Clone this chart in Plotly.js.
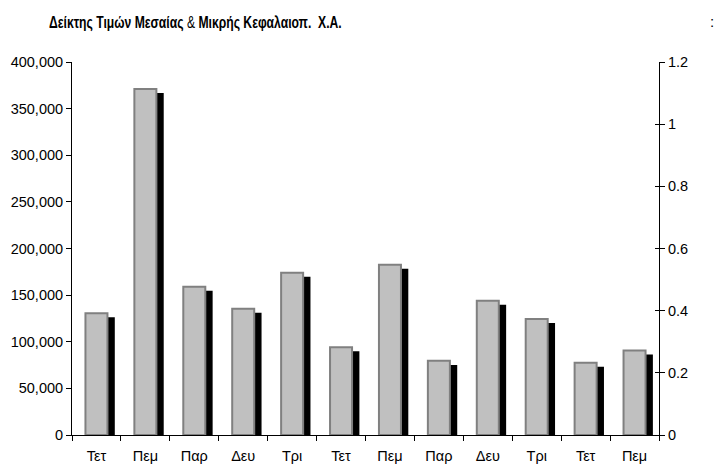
<!DOCTYPE html>
<html>
<head>
<meta charset="utf-8">
<script src="https://cdn.plot.ly/plotly-3.0.1.min.js"></script>
<style>html,body{margin:0;padding:0;background:#fff;}#chart{width:724px;height:467px;}</style>
</head>
<body>
<div id="chart"></div>
<script>
// Data
const days = ["Τετ","Πεμ","Παρ","Δευ","Τρι","Τετ","Πεμ","Παρ","Δευ","Τρι","Τετ","Πεμ"];
const indexValues = [130500, 371000, 159000, 135500, 174000, 94000, 182500, 79500, 144000, 124500, 77500, 90500];
const leftTicks = [0, 50000, 100000, 150000, 200000, 250000, 300000, 350000, 400000];
const rightTicks = [0, 0.2, 0.4, 0.6, 0.8, 1, 1.2];

const positions = days.map((d, i) => i);
const boundaries = days.map((d, i) => i - 0.5).concat([days.length - 0.5]);

const BAR_W = 0.45;
const SHADOW_DX = 0.15;     // shadow shift in category units
const SHADOW_DY = -4300;    // shadow shift in value units
const font = {family: "'Liberation Sans', Arial, sans-serif", size: 14.5, color: "#000"};

const shadow = {
  type: "bar", x: positions, y: indexValues, base: SHADOW_DY,
  width: BAR_W, offset: -BAR_W / 2 + SHADOW_DX,
  marker: {color: "#000000", line: {width: 0}},
  cliponaxis: false, hoverinfo: "skip", showlegend: false
};
const bars = {
  type: "bar", x: positions, y: indexValues,
  width: BAR_W, offset: -BAR_W / 2,
  marker: {color: "#C0C0C0", line: {color: "#808080", width: 2}},
  cliponaxis: false, showlegend: false
};
const dummy2 = {type: "scatter", x: [], y: [], xaxis: "x2", yaxis: "y2", showlegend: false};
const dummy3 = {type: "scatter", x: [], y: [], yaxis: "y3", showlegend: false};

const layout = {
  width: 724, height: 467,
  margin: {l: 72, r: 65, t: 62, b: 32},
  paper_bgcolor: "#fff", plot_bgcolor: "#fff",
  barmode: "overlay",
  showlegend: false,
  font: font,
  title: {
    text: "<b>Δείκτης Τιμών Μεσαίας</b> & <b>Μικρής Κεφαλαιοπ.</b>\u00a0\u00a0<b>Χ.Α.</b>",
    font: {family: "'Liberation Sans', Arial, sans-serif", size: 16.5, color: "#000"},
    xref: "container", yref: "container", x: 49 / 724, xanchor: "left", y: 1 - 22 / 467, yanchor: "middle"
  },
  annotations: [{
    text: ":", xref: "paper", yref: "paper", x: (712 - 72) / 587, y: 1 + (62 - 22) / 373,
    xanchor: "center", yanchor: "middle", showarrow: false,
    font: {family: "'Liberation Sans', Arial, sans-serif", size: 15, color: "#000"}
  }],
  xaxis: {
    range: [-0.5, days.length - 0.5], tickmode: "array", tickvals: positions, ticktext: days,
    ticks: "", showline: true, linecolor: "#000", linewidth: 1, showgrid: false, zeroline: false,
    tickfont: font, ticklabelstandoff: 8
  },
  xaxis2: {
    overlaying: "x", range: [-0.5, days.length - 0.5], tickmode: "array", tickvals: boundaries,
    ticks: "outside", ticklen: 5, tickcolor: "#000", tickwidth: 1, showticklabels: false,
    showline: false, showgrid: false, zeroline: false, side: "bottom", anchor: "y"
  },
  yaxis: {
    range: [0, 400000], tickmode: "array", tickvals: leftTicks, tickformat: ",d",
    ticks: "outside", ticklen: 5, tickcolor: "#000", tickwidth: 1,
    showline: true, linecolor: "#000", linewidth: 1, showgrid: false, zeroline: false,
    tickfont: font
  },
  yaxis2: {
    overlaying: "y", side: "right", range: [0, 1.2], tickmode: "array", tickvals: rightTicks,
    ticks: "outside", ticklen: 5, tickcolor: "#000", tickwidth: 1,
    showline: true, linecolor: "#000", linewidth: 1, showgrid: false, zeroline: false,
    tickfont: font, anchor: "x"
  },
  yaxis3: {
    overlaying: "y", side: "right", range: [0, 1.2], tickmode: "array", tickvals: rightTicks,
    ticks: "inside", ticklen: 4, tickcolor: "#000", tickwidth: 1, showticklabels: false,
    showline: false, showgrid: false, zeroline: false, anchor: "x"
  }
};

Plotly.newPlot("chart", [shadow, bars, dummy2, dummy3], layout, {staticPlot: true, displayModeBar: false}).then(function () {
  // Condense the title horizontally to mimic the narrow bold face of the reference
  const t = document.querySelector(".gtitle");
  if (t) {
    const bb = t.getBBox();
    const s = 293 / bb.width;
    const x0 = bb.x;
    t.setAttribute("transform", "translate(" + x0 + ",0) scale(" + s + ",1) translate(" + (-x0) + ",0)");
  }
});
</script>
</body>
</html>
